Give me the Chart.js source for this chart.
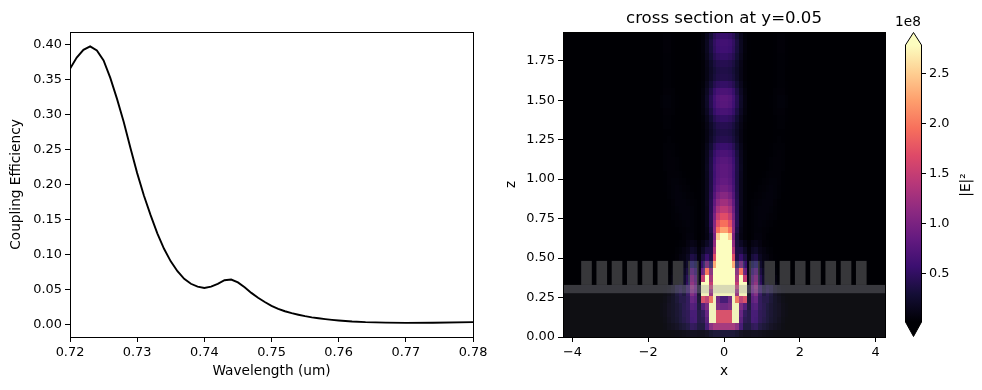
<!DOCTYPE html>
<html>
<head>
<meta charset="utf-8">
<title>coupling efficiency</title>
<script src="https://cdn.jsdelivr.net/npm/chart.js@4/dist/chart.umd.min.js"></script>
<style>
  html, body { margin: 0; padding: 0; background: #fff; overflow: hidden; }
  canvas { position: absolute; top: 0; }
</style>
</head>
<body>
<canvas id="lineChart" width="500" height="390" style="left:0"></canvas>
<canvas id="heatChart" width="400" height="390" style="left:500px"></canvas>
<canvas id="barChart" width="92" height="390" style="left:890px"></canvas>
<script>
// left panel
const wavelengths = [0.72,0.721,0.722,0.723,0.724,0.725,0.726,0.727,0.728,0.729,0.73,0.731,0.732,0.733,0.734,0.735,0.736,0.737,0.738,0.739,0.74,0.741,0.742,0.743,0.744,0.745,0.746,0.747,0.748,0.749,0.75,0.751,0.752,0.753,0.754,0.755,0.756,0.757,0.758,0.759,0.76,0.762,0.764,0.767,0.77,0.774,0.78];
const efficiency = [0.365,0.381,0.392,0.397,0.391,0.377,0.352,0.322,0.289,0.252,0.216,0.184,0.156,0.130,0.108,0.090,0.076,0.065,0.058,0.054,0.052,0.054,0.058,0.063,0.064,0.060,0.053,0.045,0.038,0.032,0.0265,0.0222,0.0188,0.016,0.0138,0.0118,0.0101,0.0087,0.0075,0.0064,0.0055,0.0041,0.0032,0.0025,0.0022,0.0024,0.0033];
const effTicks = [0,0.05,0.1,0.15,0.2,0.25,0.3,0.35,0.4];
const wlTicks = [0.72,0.73,0.74,0.75,0.76,0.77,0.78];

// right panel, |E|^2 in units of 1e6, rows top to bottom. Columns are x>=0, the section is mirror symmetric
const xCols = [0.05,0.15,0.25,0.35,0.45,0.55,0.65,0.75,0.85,0.95,1.05,1.15,1.25,1.35,1.45,1.55,1.65,1.75,1.85,1.95,2.05];
const zRows = [1.91,1.866,1.822,1.778,1.734,1.69,1.646,1.602,1.558,1.514,1.47,1.426,1.382,1.338,1.294,1.25,1.206,1.162,1.118,1.074,1.03,0.986,0.942,0.898,0.854,0.81,0.766,0.722,0.678,0.634,0.59,0.546,0.502,0.458,0.414,0.37,0.326,0.282,0.238,0.194,0.15,0.106,0.066,0.022];
const heat = [
[55,52,44,30,15,5,2,0,0,0,0,0,1,2,3,3,2,1,0,0,0],
[62,59,50,34,17,6,2,0,0,0,0,0,1,2,4,4,2,1,0,0,0],
[60,57,48,33,17,6,2,0,0,0,0,0,1,2,4,4,2,1,0,0,0],
[52,49,42,29,15,5,2,0,0,0,0,0,1,2,3,3,2,1,0,0,0],
[42,40,34,23,12,4,1,0,0,0,0,0,1,2,3,3,2,1,0,0,0],
[38,36,30,21,11,4,1,0,0,0,0,0,1,2,3,3,1,0,0,0,0],
[40,38,32,22,11,4,1,0,0,0,0,0,1,2,3,3,1,0,0,0,0],
[52,49,42,29,15,5,2,0,0,0,0,0,1,2,3,3,2,1,0,0,0],
[68,65,54,37,19,7,2,0,0,0,0,1,1,3,4,4,2,1,0,0,0],
[78,74,62,43,22,8,2,0,0,0,0,1,2,3,5,5,3,1,0,0,0],
[76,72,60,42,21,8,2,0,0,0,0,1,2,3,5,5,3,1,0,0,0],
[66,63,53,36,18,7,2,0,0,0,0,1,1,3,4,4,2,1,0,0,0],
[52,49,42,28,14,5,2,0,0,0,0,0,1,2,3,3,2,1,0,0,0],
[42,40,33,22,11,4,1,0,0,0,0,0,1,2,3,3,1,0,0,0,0],
[38,36,30,20,10,3,1,0,0,0,0,0,1,2,2,2,1,0,0,0,0],
[42,40,33,22,10,3,1,0,0,0,0,0,1,2,3,2,1,0,0,0,0],
[56,53,44,28,13,4,1,0,0,0,0,1,2,3,3,3,1,0,0,0,0],
[68,64,53,34,15,5,1,0,0,0,1,1,2,3,4,3,1,0,0,0,0],
[76,71,58,37,16,5,1,0,0,1,1,2,3,4,4,3,1,0,0,0,0],
[80,75,61,38,17,5,1,0,0,1,1,2,3,4,4,3,1,0,0,0,0],
[80,75,60,37,16,5,1,0,1,1,2,3,4,4,4,2,1,0,0,0,0],
[84,78,62,37,15,5,2,1,1,2,3,4,5,5,4,2,1,0,0,0,0],
[92,85,66,38,15,5,2,1,2,3,4,5,6,5,3,2,1,0,0,0,0],
[108,98,73,40,15,5,2,2,3,4,5,6,6,5,3,1,0,0,0,0,0],
[125,113,82,42,15,5,2,3,4,5,6,6,6,4,2,1,0,0,0,0,0],
[145,130,90,43,14,5,2,3,5,6,6,6,5,3,2,1,0,0,0,0,0],
[170,150,100,44,14,5,2,3,5,6,6,5,4,3,1,0,0,0,0,0,0],
[195,172,108,43,13,4,2,3,5,6,5,4,3,2,1,0,0,0,0,0,0],
[225,195,112,38,11,4,2,3,5,5,4,3,2,1,0,0,0,0,0,0,0],
[300,250,100,30,10,4,1,3,6,6,4,2,1,1,0,0,0,0,0,0,0],
[320,280,115,32,20,10,4,10,12,8,4,3,2,1,0,0,0,0,0,0,0],
[340,305,135,36,35,20,6,18,22,12,8,5,3,1,0,0,0,0,0,0,0],
[360,330,170,38,55,35,8,32,38,18,10,8,4,2,1,0,0,0,0,0,0],
[380,350,230,60,100,55,10,50,60,25,14,12,7,3,1,0,0,0,0,0,0],
[400,400,340,110,200,90,12,70,85,35,20,22,14,5,2,1,0,0,0,0,0],
[420,420,360,130,320,150,15,85,105,45,25,32,25,8,3,1,0,0,0,0,0],
[420,420,360,150,340,280,18,90,115,50,25,35,30,12,5,2,0,0,0,0,0],
[420,400,340,120,340,300,20,85,105,50,28,38,28,14,7,3,1,0,0,0,0],
[60,90,280,200,150,170,25,75,85,45,35,35,25,16,10,5,2,0,0,0,0],
[90,100,300,320,100,70,30,65,70,45,38,30,22,16,12,6,3,1,0,0,0],
[170,170,280,320,85,45,35,60,60,42,38,28,22,16,12,6,3,1,0,0,0],
[170,170,300,320,75,40,35,60,58,42,35,28,20,15,10,5,2,1,0,0,0],
[130,130,130,110,60,30,30,42,45,32,25,20,14,10,7,3,1,0,0,0,0],
[25,25,25,20,12,8,8,10,10,8,6,4,3,2,1,1,0,0,0,0,0]
];
const toothCentres = [-3.63,-3.227,-2.824,-2.421,-2.018,-1.615,-1.212,-0.809,-0.406,-0.003,0.4,0.803,1.206,1.609,2.012,2.415,2.818,3.221,3.624];
const toothWidth = 0.28, toothTop = 0.482, slabTop = 0.33, slabBottom = 0.277;
const xTicks = [-4,-2,0,2,4];
const zTicks = [0,0.25,0.5,0.75,1,1.25,1.5,1.75];

// colour bar, |E|^2 in units of 1e8
const barTicks = [0.5,1,1.5,2,2.5];
const barMin = 0.016, barMax = 2.786;
const magma = ['#000004','#140e36','#3b0f70','#641a80','#8c2981','#b73779','#de4968','#f7705c','#fe9f6d','#fecf92','#fcfdbf'];

Chart.defaults.font.family = '"DejaVu Sans"';
Chart.defaults.font.size = 12.9;
Chart.defaults.color = '#000';
Chart.defaults.animation = false;
Chart.defaults.devicePixelRatio = 1;
const labelFont = {size:13.7};

function hexRgb(h){ return [1,3,5].map(i=>parseInt(h.substr(i,2),16)); }
function magmaColor(v){
  let t = Math.max(0, Math.min(1, (v/100 - barMin)/(barMax-barMin)))*(magma.length-1);
  let i = Math.min(Math.floor(t), magma.length-2), f = t-i;
  let a = hexRgb(magma[i]), b = hexRgb(magma[i+1]);
  return `rgb(${a.map((c,k)=>Math.round(c+(b[k]-c)*f)).join(',')})`;
}

const spines = { id:'spines', afterDraw(chart){
  const {ctx, chartArea:a} = chart;
  ctx.save(); ctx.strokeStyle='#000'; ctx.lineWidth=1;
  ctx.strokeRect(a.left+0.5,a.top+0.5,a.right-a.left,a.bottom-a.top);
  ctx.restore();
}};

function axisBase(ticks, fmt, width, height){
  return {
    type:'linear', afterBuildTicks(s){ s.ticks = ticks.map(v=>({value:v})); },
    afterFit(s){ if(width) s.width = width; if(height) s.height = height; },
    grid:{display:true, drawOnChartArea:false, drawTicks:true, tickLength:5, tickColor:'#000', tickWidth:1},
    border:{display:true, color:'#000', width:1},
    ticks:{padding:3, autoSkip:false, maxRotation:0, callback:fmt}
  };
}

new Chart(document.getElementById('lineChart'),{
  type:'line',
  data:{datasets:[{data:wavelengths.map((w,i)=>({x:w,y:efficiency[i]})),borderColor:'#000',borderWidth:1.9,pointRadius:0,tension:0}]},
  options:{
    responsive:false,
    layout:{padding:{left:0,right:27,top:32,bottom:0}},
    plugins:{legend:{display:false},tooltip:{enabled:false}},
    scales:{
      x:{...axisBase(wlTicks,v=>v.toFixed(2),0,53),min:0.72,max:0.78,
        title:{display:true,text:'Wavelength (um)',font:labelFont,padding:{top:0,bottom:10}}},
      y:{...axisBase(effTicks,v=>v.toFixed(2),70,0),min:-0.018,max:0.4175,
        title:{display:true,text:'Coupling Efficiency',font:labelFont,padding:{top:8,bottom:0}}}
    }
  },
  plugins:[spines]
});

// mirror the x>=0 columns into a full row of cells
const cells = [];
heat.forEach((row,r)=>{
  row.forEach((v,c)=>{
    cells.push({x:xCols[c],y:zRows[r],v:v});
    cells.push({x:-xCols[c],y:zRows[r],v:v});
  });
});

const cellPlugin = { id:'cells', beforeDatasetsDraw(chart){
  const {ctx, chartArea:a, scales:{x,y}} = chart;
  ctx.save();
  ctx.beginPath(); ctx.rect(a.left,a.top,a.right-a.left,a.bottom-a.top); ctx.clip();
  ctx.fillStyle = magma[0];
  ctx.fillRect(a.left,a.top,a.right-a.left,a.bottom-a.top);
  const dx = xCols[1]-xCols[0];
  chart.data.datasets[0].data.forEach(d=>{
    const r = zRows.indexOf(d.y);
    const up = r>0 ? (zRows[r-1]+d.y)/2 : y.max;
    const down = r<zRows.length-1 ? (zRows[r+1]+d.y)/2 : 0;
    const x0 = Math.round(x.getPixelForValue(d.x-dx/2)), x1 = Math.round(x.getPixelForValue(d.x+dx/2));
    const y0 = Math.round(y.getPixelForValue(up)), y1 = Math.round(y.getPixelForValue(down));
    ctx.fillStyle = magmaColor(d.v);
    ctx.fillRect(x0,y0,x1-x0,y1-y0);
  });
  // the device outline sits on top of the field
  const box = (xa,xb,za,zb,c)=>{
    ctx.fillStyle = c;
    const p = x.getPixelForValue(xa), q = x.getPixelForValue(xb), t = y.getPixelForValue(zb), b = y.getPixelForValue(za);
    ctx.fillRect(p,t,q-p,b-t);
  };
  box(x.min,x.max,0,slabBottom,'rgba(150,150,155,0.1)');
  box(x.min,x.max,slabBottom,slabTop,'rgba(155,155,165,0.37)');
  ctx.globalCompositeOperation = 'lighten';
  toothCentres.forEach(c=>box(c-toothWidth/2,c+toothWidth/2,slabTop,toothTop,'rgb(55,55,58)'));
  ctx.restore();
}};

new Chart(document.getElementById('heatChart'),{
  type:'scatter',
  data:{datasets:[{data:cells,pointRadius:0}]},
  options:{
    responsive:false,
    layout:{padding:{left:0,right:15,top:0,bottom:0}},
    plugins:{
      legend:{display:false},tooltip:{enabled:false},
      title:{display:true,fullSize:false,text:'cross section at y=0.05',font:{size:16.6,weight:'normal'},padding:{top:9,bottom:3.1}}
    },
    scales:{
      x:{...axisBase(xTicks,v=>String(v).replace('-','\u2212'),0,53),min:-4.25,max:4.25,
        title:{display:true,text:'x',font:labelFont,padding:{top:0,bottom:10}}},
      y:{...axisBase(zTicks,v=>v.toFixed(2),63,0),min:0,max:1.932,
        title:{display:true,text:'z',font:labelFont,padding:{top:3,bottom:0}}}
    }
  },
  plugins:[cellPlugin,spines]
});

const barPlugin = { id:'colorbar',
  beforeDatasetsDraw(chart){
    const {ctx, chartArea:a, scales:{y}} = chart;
    const g = ctx.createLinearGradient(0,y.getPixelForValue(barMin),0,y.getPixelForValue(barMax));
    magma.forEach((c,i)=>g.addColorStop(i/(magma.length-1),c));
    ctx.fillStyle = g;
    ctx.fillRect(a.left,a.top,a.right-a.left,a.bottom-a.top);
  },
  afterDraw(chart){
    const {ctx, chartArea:a} = chart;
    const mid = (a.left+a.right)/2+0.5, l = a.left+0.5, r = a.right+0.5;
    ctx.save();
    ctx.fillStyle = magma[10];
    ctx.beginPath(); ctx.moveTo(l,a.top); ctx.lineTo(mid,32.5); ctx.lineTo(r,a.top); ctx.closePath(); ctx.fill();
    ctx.fillStyle = magma[0];
    ctx.beginPath(); ctx.moveTo(l,a.bottom); ctx.lineTo(mid,336.5); ctx.lineTo(r,a.bottom); ctx.closePath(); ctx.fill();
    ctx.strokeStyle = '#000'; ctx.lineWidth = 1;
    ctx.beginPath();
    ctx.moveTo(l,a.top); ctx.lineTo(mid,32.5); ctx.lineTo(r,a.top); ctx.lineTo(r,a.bottom);
    ctx.lineTo(mid,336.5); ctx.lineTo(l,a.bottom); ctx.closePath(); ctx.stroke();
    ctx.fillStyle = '#000';
    ctx.font = '13.7px "DejaVu Sans"';
    ctx.textAlign = 'center'; ctx.textBaseline = 'middle';
    ctx.fillText('1e8',18,22);
    ctx.translate(76,185); ctx.rotate(-Math.PI/2);
    ctx.fillText('|E|\u00b2',0,0);
    ctx.restore();
  }
};

new Chart(document.getElementById('barChart'),{
  type:'scatter',
  data:{datasets:[{data:[],pointRadius:0}]},
  options:{
    responsive:false,
    layout:{padding:{left:15,right:0,top:45,bottom:68}},
    plugins:{legend:{display:false},tooltip:{enabled:false}},
    scales:{
      x:{type:'linear',display:false,min:0,max:1},
      y:{...axisBase(barTicks,v=>v.toFixed(1),61,0),position:'right',min:barMin,max:barMax,
        border:{display:false}}
    }
  },
  plugins:[barPlugin]
});
</script>
</body>
</html>
